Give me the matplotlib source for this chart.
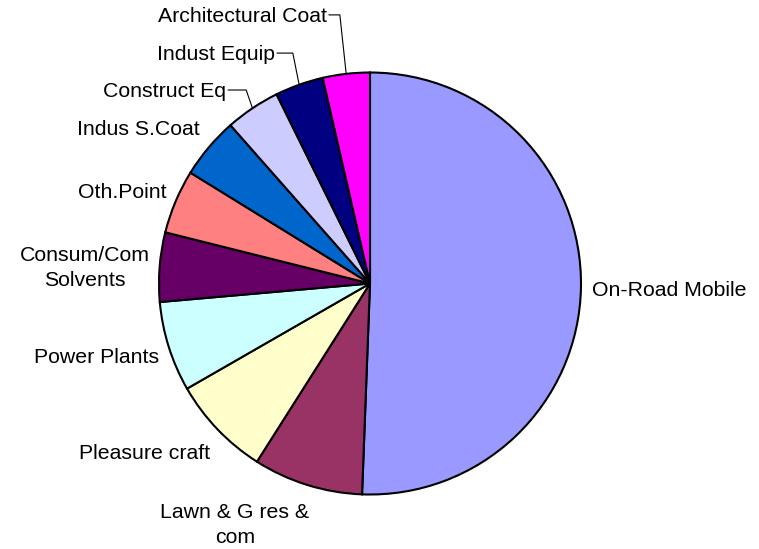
import numpy as np
import matplotlib
matplotlib.use('Agg')
import matplotlib.pyplot as plt

plt.rcParams['font.family'] = ['Liberation Sans', 'DejaVu Sans']

## Categorias e parcelas (%)
categorias = ['On-Road Mobile', 'Lawn & G res &\ncom', 'Pleasure craft', 'Power Plants',
              'Consum/Com\nSolvents', 'Oth.Point', 'Indus S.Coat', 'Construct Eq',
              'Indust Equip', 'Architectural Coat']
valores = [50.6, 8.4, 7.7, 6.9, 5.3, 4.9, 4.7, 4.2, 3.7, 3.6]
cores = ['#9999FF', '#993366', '#FFFFCC', '#CCFFFF', '#660066',
         '#FF8080', '#0066CC', '#CCCCFF', '#000080', '#FF00FF']

# posicao dos rotulos (x, y, alinhamento) e quais tem linha guia
pos_rotulos = [(1.051, -0.023, 'left'), (-0.640, -1.135, 'center'), (-1.069, -0.797, 'center'),
               (-1.294, -0.344, 'center'), (-1.353, 0.083, 'center'), (-1.175, 0.440, 'center'),
               (-1.097, 0.737, 'center'), (-0.682, 0.917, 'right'), (-0.450, 1.092, 'right'),
               (-0.204, 1.273, 'right')]
com_guia = [False] * 7 + [True] * 3

fig = plt.figure(figsize=(7.59, 5.49), dpi=100)
ax = fig.add_axes([0, 0, 1, 1])

wedges, _ = ax.pie(valores, colors=cores, startangle=90, counterclock=False, radius=1,
                   wedgeprops=dict(edgecolor='black', linewidth=1.5))

for w, nome, (x, y, ha), guia in zip(wedges, categorias, pos_rotulos, com_guia):
    ax.text(x, y - 0.009, nome, ha=ha, va='center', fontsize=15.3, color='black',
            multialignment='center', linespacing=1.45)
    if guia:
        ang = np.deg2rad((w.theta1 + w.theta2) / 2)
        ex, ey = np.cos(ang), np.sin(ang)
        ax.plot([x + 0.01, ex - 0.03, ex], [y, y, ey], color='black', lw=0.8)

ax.set_xlim(-370 / 211, (759 - 370) / 211)
ax.set_ylim(-(549 - 283.5) / 211, 283.5 / 211)
ax.set_aspect('auto')
ax.axis('off')

plt.savefig('out.png', dpi=100)
